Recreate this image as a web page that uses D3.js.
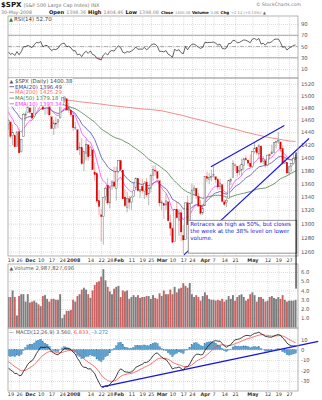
<!DOCTYPE html>
<html><head><meta charset="utf-8">
<script src="https://cdn.jsdelivr.net/npm/d3@7"></script>
<style>body{margin:0;background:#fff}svg{display:block}text{font-family:"DejaVu Sans",Verdana,sans-serif}</style>
</head><body><svg id="c" width="322" height="400"></svg>
<script>
// ---------------- DATA ----------------
const dates = ["2007-11-16",
"2007-11-19","2007-11-20","2007-11-21","2007-11-23",
"2007-11-26","2007-11-27","2007-11-28","2007-11-29","2007-11-30",
"2007-12-03","2007-12-04","2007-12-05","2007-12-06","2007-12-07",
"2007-12-10","2007-12-11","2007-12-12","2007-12-13","2007-12-14",
"2007-12-17","2007-12-18","2007-12-19","2007-12-20","2007-12-21",
"2007-12-24","2007-12-26","2007-12-27","2007-12-28",
"2007-12-31","2008-01-02","2008-01-03","2008-01-04",
"2008-01-07","2008-01-08","2008-01-09","2008-01-10","2008-01-11",
"2008-01-14","2008-01-15","2008-01-16","2008-01-17","2008-01-18",
"2008-01-22","2008-01-23","2008-01-24","2008-01-25",
"2008-01-28","2008-01-29","2008-01-30","2008-01-31","2008-02-01",
"2008-02-04","2008-02-05","2008-02-06","2008-02-07","2008-02-08",
"2008-02-11","2008-02-12","2008-02-13","2008-02-14","2008-02-15",
"2008-02-19","2008-02-20","2008-02-21","2008-02-22",
"2008-02-25","2008-02-26","2008-02-27","2008-02-28","2008-02-29",
"2008-03-03","2008-03-04","2008-03-05","2008-03-06","2008-03-07",
"2008-03-10","2008-03-11","2008-03-12","2008-03-13","2008-03-14",
"2008-03-17","2008-03-18","2008-03-19","2008-03-20",
"2008-03-24","2008-03-25","2008-03-26","2008-03-27","2008-03-28",
"2008-03-31","2008-04-01","2008-04-02","2008-04-03","2008-04-04",
"2008-04-07","2008-04-08","2008-04-09","2008-04-10","2008-04-11",
"2008-04-14","2008-04-15","2008-04-16","2008-04-17","2008-04-18",
"2008-04-21","2008-04-22","2008-04-23","2008-04-24","2008-04-25",
"2008-04-28","2008-04-29","2008-04-30","2008-05-01","2008-05-02",
"2008-05-05","2008-05-06","2008-05-07","2008-05-08","2008-05-09",
"2008-05-12","2008-05-13","2008-05-14","2008-05-15","2008-05-16",
"2008-05-19","2008-05-20","2008-05-21","2008-05-22","2008-05-23",
"2008-05-27","2008-05-28","2008-05-29","2008-05-30"];

const opens = [1453.09,
1456.70,1434.51,1434.71,1417.62,
1440.74,1409.59,1432.95,1467.41,1471.83,
1479.63,1471.34,1465.22,1484.59,1508.60,
1505.11,1516.68,1487.58,1483.27,1486.19,
1465.05,1445.92,1454.70,1456.42,1463.19,
1484.55,1495.12,1495.05,1479.83,
1475.25,1467.97,1447.55,1444.01,
1414.07,1415.71,1390.25,1406.78,1419.91,
1402.91,1411.88,1377.41,1374.79,1333.90,
1312.94,1310.41,1340.13,1357.32,
1330.70,1355.94,1362.22,1351.98,1378.60,
1395.38,1380.28,1339.48,1324.01,1336.88,
1331.92,1340.55,1353.12,1367.33,1347.52,
1355.86,1348.39,1362.21,1344.22,
1352.75,1371.76,1378.95,1378.16,1364.07,
1330.45,1329.58,1327.69,1332.20,1301.53,
1293.16,1274.40,1321.13,1305.26,1316.05,
1283.21,1277.16,1330.97,1299.67,
1330.29,1349.07,1352.45,1340.34,1327.02,
1315.92,1326.41,1369.96,1365.69,1369.85,
1373.69,1370.16,1365.50,1355.37,1357.98,
1332.20,1331.72,1337.02,1363.37,1369.00,
1387.72,1386.43,1378.40,1380.52,1387.79,
1397.96,1395.61,1391.22,1385.97,1409.16,
1415.34,1405.60,1417.49,1394.29,1394.90,
1388.28,1404.40,1405.65,1408.36,1423.89,
1425.28,1424.49,1414.06,1390.83,1392.20,
1375.97,1386.54,1390.50,1398.36];

const highs = [1462.18,
1456.70,1452.64,1436.40,1440.86,
1446.09,1429.49,1471.62,1473.81,1488.94,
1481.16,1471.34,1486.09,1508.02,1510.63,
1518.27,1523.57,1511.96,1489.40,1486.67,
1465.05,1460.16,1464.42,1461.53,1485.40,
1497.63,1498.85,1495.05,1488.01,
1475.83,1471.77,1456.80,1444.01,
1423.87,1430.28,1409.19,1429.09,1419.91,
1417.89,1411.88,1391.99,1377.72,1350.28,
1322.09,1339.09,1355.15,1368.56,
1353.97,1364.93,1385.86,1385.62,1396.02,
1395.38,1380.28,1351.96,1347.16,1341.22,
1341.40,1362.10,1369.23,1368.16,1350.00,
1367.28,1363.71,1367.94,1354.30,
1374.36,1387.34,1388.34,1378.16,1364.07,
1335.13,1331.03,1344.19,1332.20,1313.24,
1295.01,1320.65,1333.26,1321.68,1321.47,
1298.14,1330.74,1341.51,1330.67,
1359.68,1357.47,1352.45,1345.62,1334.87,
1328.52,1370.18,1377.95,1375.66,1380.91,
1386.74,1370.16,1368.39,1367.24,1357.98,
1335.64,1337.72,1365.49,1368.60,1395.90,
1390.23,1386.43,1387.87,1397.72,1399.11,
1402.90,1397.00,1404.57,1410.07,1422.72,
1415.34,1421.57,1419.54,1402.35,1394.90,
1404.06,1406.30,1420.19,1424.40,1425.82,
1440.24,1424.49,1419.12,1399.07,1392.20,
1387.40,1391.25,1406.32,1404.46];

const lows = [1443.99,
1430.42,1419.28,1415.64,1417.62,
1406.10,1407.43,1432.95,1458.36,1470.89,
1470.08,1460.66,1465.22,1482.19,1502.66,
1504.96,1475.99,1468.23,1469.21,1467.78,
1445.43,1435.65,1445.31,1447.22,1463.19,
1484.55,1488.20,1475.86,1471.70,
1465.13,1442.07,1443.73,1411.19,
1403.45,1388.30,1378.70,1395.31,1394.83,
1402.91,1380.60,1364.27,1330.67,1312.51,
1274.29,1270.05,1334.31,1327.50,
1322.26,1350.19,1352.95,1334.08,1375.93,
1379.69,1336.64,1324.34,1316.75,1321.06,
1320.32,1339.36,1350.78,1347.31,1338.13,
1345.05,1336.55,1339.34,1327.04,
1346.03,1363.29,1372.00,1363.16,1325.42,
1320.04,1307.39,1320.22,1303.42,1282.43,
1272.66,1274.40,1307.86,1282.11,1274.86,
1256.98,1277.16,1298.42,1295.22,
1330.29,1341.21,1336.41,1325.66,1312.95,
1312.81,1326.41,1361.55,1358.68,1362.83,
1369.02,1360.62,1349.97,1350.11,1331.21,
1326.16,1324.35,1337.02,1357.25,1369.00,
1379.25,1369.84,1372.24,1371.09,1379.98,
1394.40,1386.70,1384.25,1383.07,1406.25,
1404.37,1397.10,1391.16,1389.39,1384.11,
1386.20,1396.26,1405.65,1406.87,1414.35,
1421.63,1409.09,1388.81,1390.23,1373.72,
1373.07,1378.16,1388.59,1398.08];

const closes = [1458.74,
1433.27,1439.70,1416.77,1440.70,
1407.22,1428.23,1469.02,1469.72,1481.14,
1472.42,1462.79,1485.01,1507.34,1504.66,
1515.96,1477.65,1486.59,1488.41,1467.95,
1445.90,1454.98,1453.00,1460.12,1484.46,
1496.45,1497.66,1476.27,1478.49,
1468.36,1447.16,1447.16,1411.63,
1416.18,1390.19,1409.13,1420.33,1401.02,
1416.25,1380.95,1373.20,1333.25,1325.19,
1310.50,1338.60,1352.07,1330.61,
1353.96,1362.30,1355.81,1378.55,1395.42,
1380.82,1336.64,1326.45,1336.91,1331.29,
1339.13,1348.86,1367.21,1348.86,1349.99,
1348.78,1360.03,1342.53,1353.11,
1371.80,1381.29,1380.02,1367.68,1330.63,
1331.34,1326.75,1333.70,1304.34,1293.37,
1273.37,1320.65,1308.77,1315.48,1288.14,
1276.60,1330.74,1298.42,1329.51,
1349.88,1352.99,1341.13,1325.76,1315.22,
1322.70,1370.18,1367.53,1369.31,1370.40,
1372.54,1365.54,1354.49,1360.55,1332.83,
1328.32,1334.43,1364.71,1365.56,1390.33,
1388.17,1375.94,1379.93,1388.82,1397.84,
1396.37,1390.94,1385.59,1409.34,1413.90,
1407.49,1418.26,1392.57,1397.68,1388.28,
1403.58,1403.04,1408.66,1423.57,1425.35,
1426.63,1413.40,1390.71,1394.35,1375.93,
1385.35,1390.84,1398.26,1400.38];

// volume, billions of shares
const volumes = [3.3,
3.3,4.0,3.3,1.3,
3.4,3.6,3.6,2.8,3.6,
2.7,2.8,2.9,2.7,2.5,
2.3,3.4,3.5,3.1,2.8,
3.1,3.1,3.0,3.0,3.6,
1.0,1.4,1.8,1.8,
1.9,3.0,2.8,3.4,
3.6,4.1,4.3,4.1,3.6,
3.2,4.0,4.6,4.9,5.0,
5.5,6.3,5.1,4.4,
3.9,3.6,4.2,4.4,4.5,
3.3,4.0,3.9,4.0,3.1,
3.3,3.5,3.3,3.5,3.2,
3.3,3.3,3.4,3.4,
3.1,3.5,3.2,3.1,3.7,
3.4,4.0,3.6,3.6,4.1,
3.6,4.4,3.8,4.2,4.3,
4.8,4.5,4.3,4.8,
3.6,3.3,3.5,3.3,2.9,
3.4,3.8,3.5,3.1,3.0,
3.0,2.9,3.0,2.9,3.1,
2.8,3.0,3.4,3.1,3.5,
2.9,3.3,3.5,3.6,3.3,
2.9,3.1,3.6,3.8,3.5,
2.8,3.3,3.3,3.1,2.8,
2.9,3.3,3.4,3.2,3.1,
3.3,3.1,3.5,3.0,2.8,
2.9,2.9,2.9,2.99];

// closes before the visible window (Aug 31 - Nov 15 2007), used to warm up the indicators
const priorCloses = [1473.99,1489.42,1472.29,1478.55,1453.55,
1451.70,1471.49,1471.56,1483.95,1484.25,
1476.65,1519.78,1529.03,1518.75,1525.75,
1517.73,1517.21,1525.42,1531.38,1526.75,
1547.04,1546.63,1539.59,1542.84,1557.59,
1552.58,1565.15,1562.47,1554.41,1561.80,
1548.71,1538.53,1541.24,1540.08,1500.63,
1506.33,1519.59,1515.88,1514.40,1535.28,
1540.98,1531.02,1549.38,1508.44,1509.65,
1502.17,1520.27,1475.62,1474.77,1453.70,
1439.18,1481.05,1470.58,1451.15];

// 200-day MA (weekly)
const ma200Dates = ["2007-12-24","2007-12-31","2008-01-07","2008-01-14","2008-01-22","2008-01-28","2008-02-04","2008-02-11","2008-02-19","2008-02-25","2008-03-03","2008-03-10","2008-03-17","2008-03-24","2008-03-31","2008-04-07","2008-04-14","2008-04-21","2008-04-28","2008-05-05","2008-05-12","2008-05-19","2008-05-27","2008-05-30"];
const ma200Values = [1493,1492,1490,1488,1486,1484,1482,1480,1478,1477,1475,1471,1467,1463,1459,1454,1449,1445,1440,1436,1432,1429,1426,1425.29];

const tickDates = ["2007-11-19","2007-11-26","2007-12-03","2007-12-10","2007-12-17","2007-12-24","2008-01-02","2008-01-14","2008-01-22","2008-01-28","2008-02-01","2008-02-11","2008-02-19","2008-02-25","2008-03-03","2008-03-10","2008-03-17","2008-03-24","2008-04-01","2008-04-07","2008-04-14","2008-04-21","2008-05-01","2008-05-12","2008-05-19","2008-05-27"];
const tickLabels = ["19","26","Dec","10","17","24","2008","14","22","28","Feb","11","19","25","Mar","10","17","24","Apr","7","14","21","May","12","19","27"];
const boldTicks = ["Dec","2008","Feb","Mar","Apr","May"];

const priceTicks = [1260,1280,1300,1320,1340,1360,1380,1400,1420,1440,1460,1480,1500,1520];
const rsiTicks = [10,30,50,70,90];
const volTicks = [1,2,3,4,5,6];
const volTickLabels = ["1.0","2.0","3.0","4.0","5.0","6.0"];
const macdTicks = [-30,-20,-10,0,10];

// annotations (date index / value)
const channelUpper = [[93.8,1385.6],[127.8,1451]];
const channelLower = [[81.3,1255.7],[139.2,1430]];
const macdTrend = [[43.4,-35.6],[143.5,8.0]];
const noteLines = ["Retraces as high as 50%, but closes","the week at the 38% level on lower","volume."];

// ---------------- INDICATORS ----------------
const allC = priorCloses.concat(closes);
const off = priorCloses.length;
function ema(arr,n){const k=2/(n+1);const out=new Array(arr.length).fill(null);let start=arr.findIndex(v=>v!=null);if(arr.length-start<n)return out;let s=0;for(let i=start;i<start+n;i++)s+=arr[i];let e=s/n;out[start+n-1]=e;for(let i=start+n;i<arr.length;i++){e=arr[i]*k+e*(1-k);out[i]=e;}return out;}
function sma(arr,n){return arr.map((v,i)=>i<n-1?null:d3.mean(arr.slice(i-n+1,i+1)));}
const ema10=ema(allC,10), ema20=ema(allC,20), ma50=sma(allC,50);
const e12=ema(allC,12), e26=ema(allC,26);
const macd=allC.map((v,i)=>e12[i]!=null&&e26[i]!=null?e12[i]-e26[i]:null);
const sig=ema(macd,9);
const rsi=new Array(allC.length).fill(null);
{let g=0,l=0;for(let i=1;i<=14;i++){const d=allC[i]-allC[i-1];if(d>0)g+=d;else l-=d;}g/=14;l/=14;rsi[14]=100-100/(1+g/l);
for(let i=15;i<allC.length;i++){const d=allC[i]-allC[i-1];g=(g*13+(d>0?d:0))/14;l=(l*13+(d<0?-d:0))/14;rsi[i]=100-100/(1+g/l);}}
const vis=a=>dates.map((d,i)=>a[i+off]);

// ---------------- SCALES ----------------
const svg=d3.select("#c");
const L=8,R=298;
const P={rsi:[16,78],price:[78,256],vol:[264,328],macd:[328,391]};
const idx=d=>dates.indexOf(d);
const x=d3.scaleLinear().domain([0,dates.length-1]).range([8.3,295.6]);
const yP=d3.scaleLog().domain([1254,1530]).range([256,78]);
const yR=d3.scaleLinear().domain([0,100]).range([74.6,18.4]);
const yV=d3.scaleLinear().domain([0,6]).range([327.5,272]);
const yM=d3.scaleLinear().domain([-30,10]).range([381,339.3]);
const tickIdx=tickDates.map(idx);

const defs=svg.append("defs");
Object.entries(P).forEach(([k,[t,b]])=>{defs.append("clipPath").attr("id","clip-"+k).append("rect").attr("x",L).attr("y",t).attr("width",R-L).attr("height",b-t);});

function panelGrid(key,yScale,ticks,labels){
  const [t,b]=P[key];
  const g=svg.append("g");
  g.append("g").attr("transform",`translate(0,${b})`)
   .call(d3.axisBottom(x).tickValues(tickIdx).tickSize(-(b-t)).tickFormat(""))
   .call(s=>{s.select(".domain").remove();s.selectAll("line").attr("stroke","#c8c8c8").attr("stroke-dasharray","1,1").attr("stroke-width",0.6);});
  g.append("g").attr("transform",`translate(${R},0)`)
   .call(d3.axisRight(yScale).tickValues(ticks).tickSize(-(R-L)).tickPadding(3).tickFormat((d,i)=>labels?labels[i]:d))
   .call(s=>{s.select(".domain").remove();s.selectAll("line").attr("stroke","#c8c8c8").attr("stroke-dasharray","1,1").attr("stroke-width",0.6);
     s.selectAll("text").attr("font-size",5.3).attr("fill","#555").attr("font-family","DejaVu Sans");});
  return g;
}
function panelBorder(key){const [t,b]=P[key];svg.append("rect").attr("x",L).attr("y",t).attr("width",R-L).attr("height",b-t).attr("fill","none").attr("stroke","#a0a0a0").attr("stroke-width",0.8);}

function dateAxis(yPos){
  svg.append("g").attr("transform",`translate(0,${yPos})`)
   .call(d3.axisBottom(x).tickValues(tickIdx).tickSize(0).tickPadding(0).tickFormat((d,i)=>tickLabels[i]))
   .call(s=>{s.select(".domain").remove();s.selectAll("text").attr("dy",0).attr("font-size",4.9).attr("fill","#333").attr("font-family","DejaVu Sans")
     .attr("font-weight",d=>boldTicks.includes(tickLabels[tickIdx.indexOf(d)])?"bold":"normal");});
}

function flowFit(parent,items,x0,x1,y,base){
  const g=parent.append("g");
  const make=s=>{g.selectAll("*").remove();let xx=x0;items.forEach(([t,bold,col])=>{const tx=g.append("text").attr("x",xx).attr("y",y).attr("font-size",bold?s*1.08:s).attr("font-weight",bold?"bold":"normal").attr("fill",col).text(t);xx+=tx.node().getComputedTextLength()+s*0.45;});return xx-s*0.45-x0;};
  const w=make(base);make(base*(x1-x0)/w);
}

// ---------------- HEADER ----------------
const hdr=svg.append("g");
const t1=hdr.append("text").attr("x",1).attr("y",7.3).attr("font-size",7).attr("font-weight","bold").attr("fill","#111").text("$SPX");
hdr.append("text").attr("x",1+t1.node().getComputedTextLength()+2).attr("y",7.3).attr("font-size",4.9).attr("fill","#777").text("(S&P 500 Large Cap Index) INX");
hdr.append("text").attr("x",301).attr("y",5.5).attr("font-size",4.6).attr("fill","#777").attr("text-anchor","end").text("© StockCharts.com");
hdr.append("text").attr("x",1).attr("y",14.4).attr("font-size",4.7).attr("fill","#777").text("30-May-2008");
flowFit(hdr,[["Open",1,"#111"],["1398.36",0,"#888"],["High",1,"#111"],["1404.46",0,"#888"],["Low",1,"#111"],["1398.08",0,"#888"]],49,159,14.4,5);
flowFit(hdr,[["Close",1,"#111"],["1400.38",0,"#888"],["Volume",1,"#111"],["3.0B",0,"#888"],["Chg",1,"#111"],["+2.12 (+0.15%)",0,"#888"],["▲",0,"#666"]],161,266,14.4,5);

// ---------------- RSI PANEL ----------------
panelGrid("rsi",yR,rsiTicks);
[70,30].forEach(v=>svg.append("line").attr("x1",L).attr("x2",R).attr("y1",yR(v)).attr("y2",yR(v)).attr("stroke","#909090").attr("stroke-width",0.8));
svg.append("line").attr("x1",L).attr("x2",R).attr("y1",yR(50)).attr("y2",yR(50)).attr("stroke","#909090").attr("stroke-width",0.7).attr("stroke-dasharray","4,1.5,1,1.5");
const rsiVis=vis(rsi);
svg.append("path").attr("clip-path","url(#clip-rsi)").attr("d",d3.line().x((d,i)=>x(i)).y(d=>yR(d))(rsiVis)).attr("fill","none").attr("stroke","#222").attr("stroke-width",0.7);
svg.append("path").attr("clip-path","url(#clip-rsi)").attr("d",d3.line().defined(d=>d<31).x((d,i)=>x(i)).y(d=>yR(d))(rsiVis)).attr("fill","none").attr("stroke","#d04070").attr("stroke-width",0.9);
panelBorder("rsi");
svg.append("text").attr("x",9).attr("y",20.6).attr("font-size",5.2).attr("fill","#2a8a2a").text("▲");
svg.append("text").attr("x",14).attr("y",20.6).attr("font-size",5.5).attr("fill","#444").text("RSI(14) 52.70");

// ---------------- PRICE PANEL ----------------
panelGrid("price",yP,priceTicks);
const gp=svg.append("g").attr("clip-path","url(#clip-price)");
const line=(arr,sc)=>d3.line().defined(d=>d!=null).x((d,i)=>x(i)).y(d=>sc(d))(arr);
gp.append("path").attr("d",d3.line().x(d=>x(idx(d[0]))).y(d=>yP(d[1]))(ma200Dates.map((d,i)=>[d,ma200Values[i]]))).attr("fill","none").attr("stroke","#f07070").attr("stroke-width",0.8);
gp.append("path").attr("d",line(vis(ma50),yP)).attr("fill","none").attr("stroke","#4e7f4e").attr("stroke-width",0.8);
gp.append("path").attr("d",line(vis(ema20),yP)).attr("fill","none").attr("stroke","#3a3a9a").attr("stroke-width",0.7);
gp.append("path").attr("d",line(vis(ema10),yP)).attr("fill","none").attr("stroke","#ff33ff").attr("stroke-width",0.7);
const prevClose=i=>i>0?closes[i-1]:priorCloses[priorCloses.length-1];
dates.forEach((d,i)=>{
  const down=closes[i]<prevClose(i);
  const hollow=closes[i]>opens[i];
  const col=down?"#dd0000":"#6a6a6a";
  gp.append("line").attr("x1",x(i)).attr("x2",x(i)).attr("y1",yP(highs[i])).attr("y2",yP(lows[i])).attr("stroke",down?"#e87070":"#888").attr("stroke-width",0.6);
  const top=yP(Math.max(opens[i],closes[i])),bot=yP(Math.min(opens[i],closes[i]));
  gp.append("rect").attr("x",x(i)-0.8).attr("width",1.6).attr("y",top).attr("height",Math.max(0.6,bot-top))
   .attr("fill",hollow?"#fff":col).attr("stroke",col).attr("stroke-width",hollow?0.5:0.2);
});
gp.append("path").attr("d",d3.line().x(d=>x(d[0])).y(d=>yP(d[1]))(channelUpper)).attr("stroke","#1515e0").attr("stroke-width",1.1).attr("fill","none");
svg.append("path").attr("d",d3.line().x(d=>x(d[0])).y(d=>yP(d[1]))(channelLower)).attr("stroke","#1515e0").attr("stroke-width",1.1).attr("fill","none");
const noteX=x(83.3), noteY=yP(1305);
const nb=svg.append("g");
nb.append("rect").attr("x",noteX).attr("y",noteY).attr("width",x(133.5)-noteX).attr("height",yP(1258)-noteY).attr("fill","#fff").attr("stroke","#888").attr("stroke-width",0.9);
noteLines.forEach((t,i)=>nb.append("text").attr("x",noteX+2).attr("y",noteY+6+i*6.6).attr("font-size",5.6).attr("fill","#1a1ae6").attr("font-family","Liberation Sans, Arial, sans-serif").text(t));
panelBorder("price");
const leg=[["$SPX (Daily) 1400.38",null,"#444"],["EMA(20) 1396.49","#3a3a9a","#3a3a9a"],["MA(200) 1425.29","#f07070","#f07070"],["MA(50) 1379.18","#4e7f4e","#4e7f4e"],["EMA(10) 1393.34","#ff33ff","#ff33ff"]];
leg.forEach(([t,lc,tc],i)=>{
  const yy=82.8+i*5.7;
  const g=svg.append("g");
  const r=g.append("rect").attr("fill","#fff");
  const tx=g.append("text").attr("x",15).attr("y",yy).attr("font-size",5.4).attr("fill",tc).text(t);
  const w=tx.node().getComputedTextLength();
  r.attr("x",L+0.5).attr("y",yy-4.6).attr("width",15-L+w).attr("height",5.6);
  if(lc) g.append("line").attr("x1",9.5).attr("x2",14).attr("y1",yy-1.8).attr("y2",yy-1.8).attr("stroke",lc).attr("stroke-width",0.8);
  else g.append("text").attr("x",9.5).attr("y",yy).attr("font-size",4.8).attr("fill","#555").text("▲");
});
dateAxis(261.8);

// ---------------- VOLUME PANEL ----------------
panelGrid("vol",yV,volTicks,volTickLabels);
const gv=svg.append("g").attr("clip-path","url(#clip-vol)");
dates.forEach((d,i)=>{
  const down=closes[i]<prevClose(i);
  gv.append("rect").attr("x",x(i)-0.95).attr("width",1.9).attr("y",yV(volumes[i])).attr("height",yV(0)-yV(volumes[i]))
   .attr("fill",down?"#cc6363":"#7d7d7d");
});
panelBorder("vol");
svg.append("text").attr("x",9.5).attr("y",270).attr("font-size",4.8).attr("fill","#555").text("▲");
svg.append("text").attr("x",14).attr("y",270).attr("font-size",5.3).attr("fill","#666").text("Volume 2,987,827,696");
svg.append("line").attr("x1",x(133.2)).attr("x2",x(133.2)).attr("y1",yP(1408)).attr("y2",yV(4.2)).attr("stroke","#000").attr("stroke-width",1);

// ---------------- MACD PANEL ----------------
panelGrid("macd",yM,macdTicks);
const gm=svg.append("g").attr("clip-path","url(#clip-macd)");
const macdV=vis(macd), sigV=vis(sig);
dates.forEach((d,i)=>{const h=macdV[i]-sigV[i];
  gm.append("rect").attr("x",x(i)-0.9).attr("width",1.8).attr("y",yM(Math.max(0,h))).attr("height",Math.abs(yM(h)-yM(0)))
   .attr("fill","#5aa0cf").attr("stroke","#2f78b0").attr("stroke-width",0.3);});
gm.append("path").attr("d",line(sigV,yM)).attr("fill","none").attr("stroke","#f05050").attr("stroke-width",0.8);
gm.append("path").attr("d",line(macdV,yM)).attr("fill","none").attr("stroke","#111").attr("stroke-width",0.8);
svg.append("path").attr("d",d3.line().x(d=>x(d[0])).y(d=>yM(d[1]))(macdTrend)).attr("stroke","#1515e0").attr("stroke-width",1.4).attr("fill","none");
panelBorder("macd");
const ml=svg.append("text").attr("x",9).attr("y",334).attr("font-size",5.1);
ml.append("tspan").attr("fill","#555").text("— MACD(12,26,9) 3.560, ");
ml.append("tspan").attr("fill","#f05050").text("6.833");
ml.append("tspan").attr("fill","#555").text(", ");
ml.append("tspan").attr("fill","#3a8ac8").text("-3.272");
dateAxis(396.2);
</script></body></html>
